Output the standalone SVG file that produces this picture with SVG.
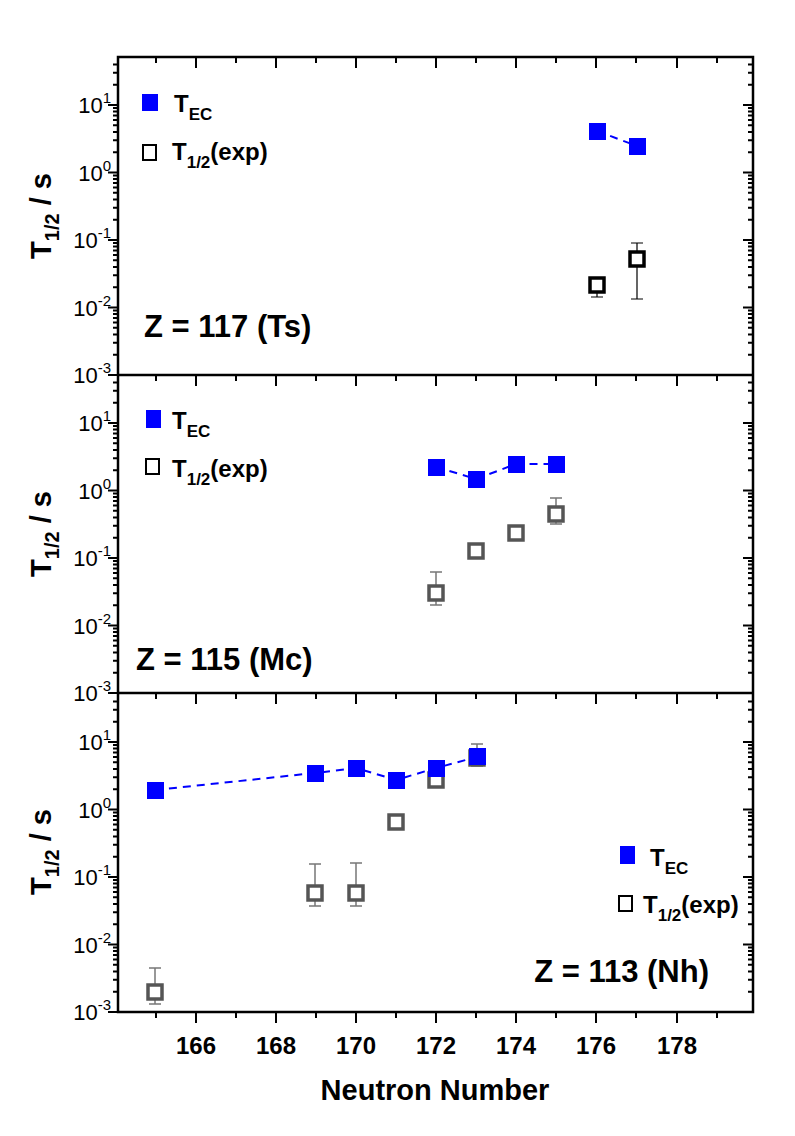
<svg xmlns="http://www.w3.org/2000/svg" width="795" height="1136" viewBox="0 0 795 1136">
<style>
text{font-family:"Liberation Sans",Arial,sans-serif;fill:#000}
.b{font-weight:bold}
.tl{font-size:22px}
.ax{stroke:#000;stroke-width:2.5;fill:none}
.tk{stroke:#000;stroke-width:2;fill:none}
.ec{fill:#0000ff}
.ex{fill:#fff;stroke:#555;stroke-width:3.5}
.exk{fill:#fff;stroke:#000;stroke-width:3.5}
.eb{stroke:#777;stroke-width:1.5;fill:none}
.ebk{stroke:#000;stroke-width:1.2;fill:none}
.dl{stroke:#0000ff;stroke-width:2;stroke-dasharray:8,6;fill:none}
</style>
<defs>
<g id="xt">
<path class="tk" d="M156,0v6M196,0v11M236,0v6M276,0v11M316,0v6M356,0v11M396,0v6M436,0v11M476,0v6M516,0v11M556,0v6M596,0v11M636,0v6M677,0v11M717,0v6"/>
</g>
<g id="yd">
<path class="tk" d="M0,0h-10M0,-20.3h-5M0,-32.2h-5M0,-40.6h-5M0,-47.2h-5M0,-52.5h-5M0,-57h-5M0,-60.9h-5M0,-64.4h-5"/>
</g>
</defs>
<g id="axes">
<rect class="ax" x="118" y="57" width="635" height="955"/>
<line class="ax" x1="118" y1="375" x2="753" y2="375"/>
<line class="ax" x1="118" y1="693" x2="753" y2="693"/>
<use href="#xt" y="57"/><use href="#xt" y="375"/><use href="#xt" y="693"/><use href="#xt" y="1012"/>
<g id="ypanel1">
<use href="#yd" x="118" y="375"/><use href="#yd" x="118" y="307.5"/><use href="#yd" x="118" y="240"/><use href="#yd" x="118" y="172.5"/>
<use href="#yd" x="753" y="375"/><use href="#yd" x="753" y="307.5"/><use href="#yd" x="753" y="240"/><use href="#yd" x="753" y="172.5"/>
<path class="tk" d="M118,105h-10M753,105h-10M118,84.7h-5M118,72.8h-5M118,64.4h-5M753,84.7h-5M753,72.8h-5M753,64.4h-5"/>
</g>
<use href="#ypanel1" y="318"/>
<use href="#ypanel1" y="637"/>
</g>
<g id="ylabels" class="tl" text-anchor="end">
<g id="yl1">
<text x="111" y="113">10<tspan dy="-10" font-size="15">1</tspan></text>
<text x="111" y="181">10<tspan dy="-10" font-size="15">0</tspan></text>
<text x="111" y="248">10<tspan dy="-10" font-size="15">-1</tspan></text>
<text x="111" y="316">10<tspan dy="-10" font-size="15">-2</tspan></text>
<text x="111" y="383">10<tspan dy="-10" font-size="15">-3</tspan></text>
</g>
<use href="#yl1" y="318"/>
<use href="#yl1" y="637"/>
</g>
<g id="ytitles" class="b" font-size="29">
<text transform="translate(51,216) rotate(-90)" text-anchor="middle">T<tspan font-size="20" dy="8">1/2</tspan><tspan dy="-8"> / s</tspan></text>
<text transform="translate(51,534) rotate(-90)" text-anchor="middle">T<tspan font-size="20" dy="8">1/2</tspan><tspan dy="-8"> / s</tspan></text>
<text transform="translate(51,852) rotate(-90)" text-anchor="middle">T<tspan font-size="20" dy="8">1/2</tspan><tspan dy="-8"> / s</tspan></text>
</g>
<g id="xlabels" class="b" font-size="24" text-anchor="middle">
<text x="196" y="1054">166</text><text x="276" y="1054">168</text><text x="356" y="1054">170</text><text x="436" y="1054">172</text><text x="516" y="1054">174</text><text x="596" y="1054">176</text><text x="677" y="1054">178</text>
<text x="435" y="1100" font-size="29">Neutron Number</text>
</g>
<g id="connectors">
<polyline class="dl" points="597,131 637,146"/>
<polyline class="dl" points="436,467 476,479 516,464 556,464"/>
<polyline class="dl" points="155,790 315,773 356,768 396,780 436,768 477,757"/>
<path class="ebk" d="M597,285v12M591,297h12M637,243v56M631,243h12M631,299h12"/>
<path class="eb" d="M436,572v33M430,572h12M430,605h12M556,498v26M550,498h12M550,524h12"/>
<path class="eb" d="M155,968v36M149,968h12M149,1004h12M315,864v42M309,864h12M309,906h12M356,863v43M350,863h12M350,906h12M477,744v22M471,744h12M471,766h12"/>
</g>
<g id="panel117">
<rect class="exk" x="590" y="278" width="14" height="14"/>
<rect class="exk" x="630" y="252" width="14" height="14"/>
<rect class="ec" x="589" y="123" width="17" height="17"/>
<rect class="ec" x="629" y="138" width="17" height="17"/>
<rect class="ec" x="142" y="94" width="16" height="17"/>
<text class="b" x="174" y="112" font-size="24">T<tspan font-size="17" dy="8">EC</tspan></text>
<rect x="143" y="145" width="13" height="15" fill="#fff" stroke="#000" stroke-width="2"/>
<text class="b" x="172" y="160" font-size="24">T<tspan font-size="17" dy="8">1/2</tspan><tspan dy="-8">(exp)</tspan></text>
<text class="b" x="144" y="337" font-size="31">Z = 117 (Ts)</text>
</g>
<g id="panel115">
<rect class="ex" x="429" y="586" width="14" height="14"/>
<rect class="ex" x="469" y="544" width="14" height="14"/>
<rect class="ex" x="509" y="526" width="14" height="14"/>
<rect class="ex" x="549" y="507" width="14" height="14"/>
<rect class="ec" x="428" y="459" width="17" height="17"/>
<rect class="ec" x="468" y="471" width="17" height="17"/>
<rect class="ec" x="508" y="456" width="17" height="17"/>
<rect class="ec" x="548" y="456" width="17" height="17"/>
<rect class="ec" x="146" y="410" width="15" height="18"/>
<text class="b" x="172" y="429" font-size="24">T<tspan font-size="17" dy="8">EC</tspan></text>
<rect x="146" y="459" width="13" height="15" fill="#fff" stroke="#000" stroke-width="2"/>
<text class="b" x="172" y="477" font-size="24">T<tspan font-size="17" dy="8">1/2</tspan><tspan dy="-8">(exp)</tspan></text>
<text class="b" x="136" y="670" font-size="31">Z = 115 (Mc)</text>
</g>
<g id="panel113">
<rect class="ex" x="148" y="985" width="14" height="14"/>
<rect class="ex" x="308" y="886" width="14" height="14"/>
<rect class="ex" x="349" y="886" width="14" height="14"/>
<rect class="ex" x="389" y="815" width="14" height="14"/>
<rect class="ex" x="429" y="773" width="14" height="14"/>
<rect class="ex" x="470" y="751" width="14" height="14"/>
<rect class="ec" x="147" y="782" width="17" height="17"/>
<rect class="ec" x="307" y="765" width="17" height="17"/>
<rect class="ec" x="348" y="760" width="17" height="17"/>
<rect class="ec" x="388" y="772" width="17" height="17"/>
<rect class="ec" x="428" y="760" width="17" height="17"/>
<rect class="ec" x="469" y="748" width="17" height="17"/>
<rect class="ec" x="620" y="846" width="15" height="18"/>
<text class="b" x="650" y="866" font-size="24">T<tspan font-size="17" dy="8">EC</tspan></text>
<rect x="619" y="896" width="13" height="15" fill="#fff" stroke="#000" stroke-width="2"/>
<text class="b" x="643" y="913" font-size="24">T<tspan font-size="17" dy="8">1/2</tspan><tspan dy="-8">(exp)</tspan></text>
<text class="b" x="709" y="982" font-size="31" text-anchor="end">Z = 113 (Nh)</text>
</g>
</svg>
